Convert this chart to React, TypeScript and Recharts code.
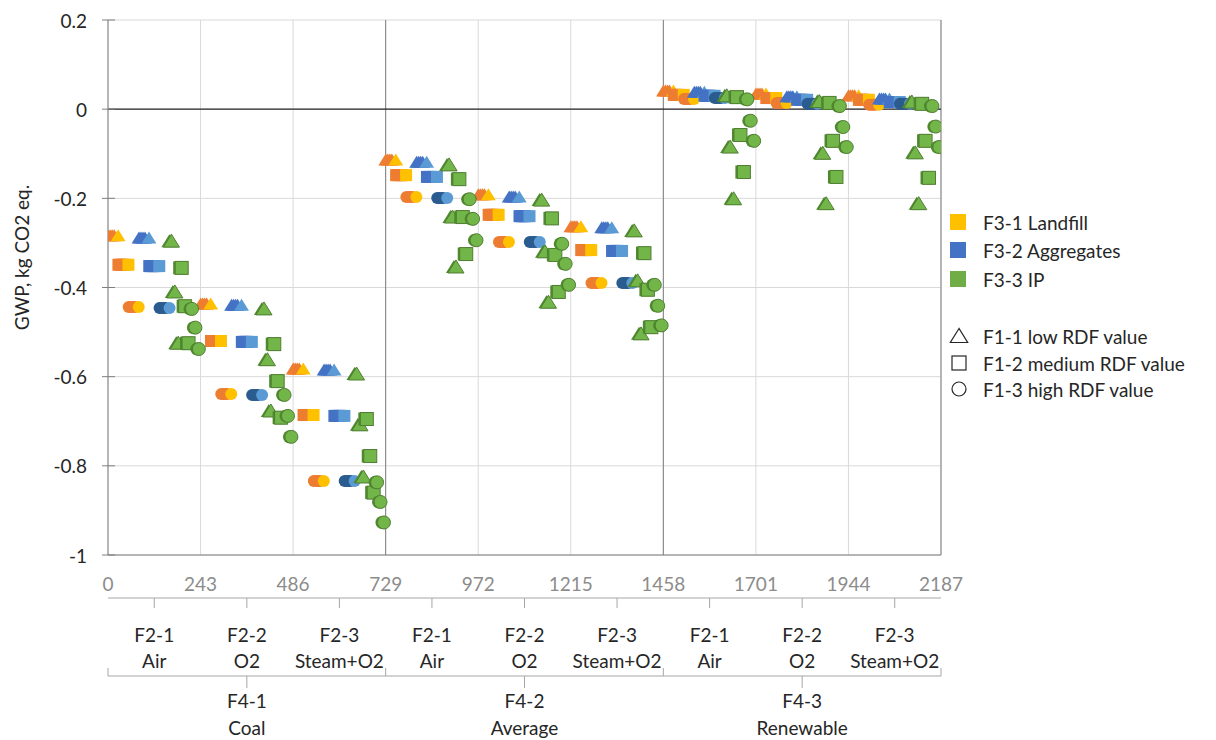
import React from "react";
import { ScatterChart, Scatter, XAxis, YAxis, CartesianGrid, ReferenceLine } from "recharts";

const FONT = "Lato, 'Open Sans', sans-serif";

const xTicks = [0, 243, 486, 729, 972, 1215, 1458, 1701, 1944, 2187];
const yTicks = [0.2, 0, -0.2, -0.4, -0.6, -0.8, -1];
const gasTicks = [121.5, 364.5, 607.5, 850.5, 1093.5, 1336.5, 1579.5, 1822.5, 2065.5];
const energyTicks = [0, 364.5, 729, 1093.5, 1458, 1822.5, 2187];
const energyGroups = [
  { id: "F4-1", name: "Coal" },
  { id: "F4-2", name: "Average" },
  { id: "F4-3", name: "Renewable" },
];
const gasGroups = [
  { id: "F2-1", name: "Air" },
  { id: "F2-2", name: "O2" },
  { id: "F2-3", name: "Steam+O2" },
];
const seriesNames = ["F3-1 Landfill", "F3-2 Aggregates", "F3-3 IP"];
const rdfNames = ["F1-1 low RDF value", "F1-2 medium RDF value", "F1-3 high RDF value"];

// [F4][F2][F1]   F1: 0 low (triangle), 1 medium (square), 2 high (circle)
const landfillValues = [
  [[-0.284, -0.349, -0.444], [-0.437, -0.52, -0.639], [-0.583, -0.686, -0.834]],
  [[-0.114, -0.148, -0.197], [-0.192, -0.237, -0.298], [-0.264, -0.316, -0.39]],
  [[0.041, 0.032, 0.023], [0.034, 0.025, 0.014], [0.03, 0.021, 0.01]],
];
const aggregatesValues = [
  [[-0.289, -0.352, -0.446], [-0.44, -0.522, -0.641], [-0.585, -0.688, -0.834]],
  [[-0.119, -0.152, -0.199], [-0.197, -0.24, -0.298], [-0.266, -0.318, -0.39]],
  [[0.038, 0.03, 0.025], [0.028, 0.021, 0.012], [0.023, 0.016, 0.012]],
];
// [F4][F2][F1][sub-level]
const ipValues = [
  [
    [[-0.296, -0.41, -0.525], [-0.356, -0.442, -0.525], [-0.448, -0.49, -0.538]],
    [[-0.448, -0.562, -0.677], [-0.527, -0.61, -0.692], [-0.641, -0.688, -0.735]],
    [[-0.594, -0.708, -0.825], [-0.695, -0.778, -0.86], [-0.837, -0.881, -0.927]],
  ],
  [
    [[-0.125, -0.242, -0.354], [-0.157, -0.242, -0.325], [-0.202, -0.246, -0.294]],
    [[-0.204, -0.32, -0.433], [-0.245, -0.327, -0.41], [-0.302, -0.347, -0.394]],
    [[-0.273, -0.385, -0.504], [-0.323, -0.405, -0.489], [-0.394, -0.441, -0.485]],
  ],
  [
    [[0.03, -0.085, -0.201], [0.027, -0.058, -0.141], [0.022, -0.026, -0.071]],
    [[0.017, -0.099, -0.212], [0.014, -0.071, -0.152], [0.007, -0.04, -0.085]],
    [[0.016, -0.098, -0.212], [0.012, -0.071, -0.154], [0.007, -0.039, -0.085]],
  ],
];

// position of a combination along the 0..2187 run index
const runIndex = (f4: number, f2: number, f3: number, f1: number) => f4 * 729 + f2 * 243 + f3 * 81 + f1 * 27;

function buildBlocks(values: number[][][], f3: number) {
  const out: any[] = [];
  values.forEach((byGas, f4) =>
    byGas.forEach((byRdf, f2) =>
      byRdf.forEach((y, f1) => out.push({ x: runIndex(f4, f2, f3, f1) + 13.5, y, f1 }))
    )
  );
  return out;
}
function buildSub(values: number[][][][], f3: number) {
  const out: any[] = [];
  values.forEach((byGas, f4) =>
    byGas.forEach((byRdf, f2) =>
      byRdf.forEach((subs, f1) =>
        subs.forEach((y, s) => out.push({ x: runIndex(f4, f2, f3, f1) + s * 9 + 4.5, y, f1 }))
      )
    )
  );
  return out;
}

const landfillData = buildBlocks(landfillValues, 0);
const aggregatesData = buildBlocks(aggregatesValues, 1);
const ipData = buildSub(ipValues, 2);

function markerEl(kind: number, cx: number, cy: number, fill: string, key: any, stroke = "none", sw = 0, size = 12) {
  const h = size / 2;
  if (kind === 0) {
    const w = size * 0.62;
    const pts = `${cx},${cy - h - 0.5} ${cx - w},${cy + h - 0.5} ${cx + w},${cy + h - 0.5}`;
    return <polygon key={key} points={pts} fill={fill} stroke={stroke} strokeWidth={sw} />;
  }
  if (kind === 1)
    return <rect key={key} x={cx - h} y={cy - h} width={size} height={size} fill={fill} stroke={stroke} strokeWidth={sw} />;
  return <circle key={key} cx={cx} cy={cy} r={h} fill={fill} stroke={stroke} strokeWidth={sw} />;
}

const blobShape = (dark: string, light: string, darkCircle: string) => (props: any) => {
  const { cx, cy, payload } = props;
  const k = payload.f1;
  const d = k === 2 ? darkCircle : dark;
  return (
    <g>
      {[-5, -3, -1, 1].map((dx) => markerEl(k, cx + dx, cy, d, dx))}
      {markerEl(k, cx + 5, cy, light, "l")}
    </g>
  );
};

const ipShape = (props: any) => {
  const { cx, cy, payload } = props;
  const k = payload.f1;
  return (
    <g>
      {markerEl(k, cx - 2, cy, "#4E8A2E", "d", "none", 0, 13)}
      {markerEl(k, cx, cy, "#72B548", "m", "#507E32", 1, 13)}
    </g>
  );
};

const NumTick = (props: any) => {
  const { x, y, payload } = props;
  return (
    <text x={x} y={y + 28} textAnchor="middle" dominantBaseline="central" fill="#8C8C8C" fontSize={19} fontFamily={FONT}>
      {payload.value}
    </text>
  );
};

const GasTick = (props: any) => {
  const { x, y, payload } = props;
  const g = gasGroups[Math.floor(payload.value / 243) % 3];
  return (
    <g>
      <line x1={x} y1={y} x2={x} y2={y + 10} stroke="#A6A6A6" />
      <text x={x} y={y + 36} textAnchor="middle" dominantBaseline="central" fill="#262626" fontSize={19} fontFamily={FONT}>
        {g.id}
      </text>
      <text x={x} y={y + 62} textAnchor="middle" dominantBaseline="central" fill="#262626" fontSize={19} fontFamily={FONT}>
        {g.name}
      </text>
    </g>
  );
};

const EnergyTick = (props: any) => {
  const { x, y, payload } = props;
  if (payload.value % 729 === 0) {
    return <line x1={x} y1={y - 8} x2={x} y2={y} stroke="#A6A6A6" />;
  }
  const g = energyGroups[Math.floor(payload.value / 729)];
  return (
    <g>
      <line x1={x} y1={y} x2={x} y2={y + 12} stroke="#A6A6A6" />
      <text x={x} y={y + 24} textAnchor="middle" dominantBaseline="central" fill="#262626" fontSize={19} fontFamily={FONT}>
        {g.id}
      </text>
      <text x={x} y={y + 51} textAnchor="middle" dominantBaseline="central" fill="#262626" fontSize={19} fontFamily={FONT}>
        {g.name}
      </text>
    </g>
  );
};

const YTick = (props: any) => {
  const { x, y, payload } = props;
  return (
    <g>
      <line x1={x - 6} y1={y} x2={x + 7} y2={y} stroke="#7F7F7F" />
      <text x={x - 21} y={y} textAnchor="end" dominantBaseline="central" fill="#262626" fontSize={19} fontFamily={FONT}>
        {String(payload.value)}
      </text>
    </g>
  );
};

const YLabel = (props: any) => {
  const { viewBox } = props;
  const cx = viewBox.x + 13;
  const cy = viewBox.y + viewBox.height / 2 - 30;
  return (
    <text x={cx} y={cy} transform={`rotate(-90 ${cx} ${cy})`} textAnchor="middle" dominantBaseline="central" fill="#262626" fontSize={19} fontFamily={FONT}>
      GWP, kg CO2 eq.
    </text>
  );
};

const legendColors = ["#FFC000", "#4472C4", "#70AD47"];

function LegendBox() {
  const rowsTop = [17, 45, 74];
  const rowsBottom = [131, 158, 184];
  return (
    <svg width={262} height={200} style={{ position: "absolute", left: 932, top: 197 }}>
      {seriesNames.map((n, i) => (
        <g key={n}>
          <rect x={10} y={rowsTop[i] - 8} width={16} height={16} fill={legendColors[i]} />
          <text x={43} y={rowsTop[i]} dominantBaseline="central" fontSize={19} fill="#262626" fontFamily={FONT}>
            {n}
          </text>
        </g>
      ))}
      {rdfNames.map((n, i) => (
        <g key={n}>
          {markerEl(i, 19, rowsBottom[i], "none", "s" + i, "#262626", 1.2, 14)}
          <text x={43} y={rowsBottom[i]} dominantBaseline="central" fontSize={19} fill="#262626" fontFamily={FONT}>
            {n}
          </text>
        </g>
      ))}
    </svg>
  );
}

export default function App() {
  return (
    <div style={{ position: "relative", width: 1200, height: 732, fontFamily: FONT }}>
      <ScatterChart width={1200} height={732} margin={{ top: 12, right: 267, bottom: 0, left: 0 }}>
        <CartesianGrid stroke="#D9D9D9" strokeWidth={1} />
        <XAxis
          xAxisId={0}
          type="number"
          dataKey="x"
          domain={[0, 2187]}
          ticks={xTicks}
          interval={0}
          height={43}
          tick={NumTick}
          tickLine={false}
          tickSize={0}
          tickMargin={0}
          axisLine={{ stroke: "#7F7F7F" }}
          allowDataOverflow
        />
        <XAxis
          xAxisId="lvl1"
          type="number"
          dataKey="x"
          domain={[0, 2187]}
          ticks={gasTicks}
          interval={0}
          height={78}
          tick={GasTick}
          tickLine={false}
          tickSize={0}
          tickMargin={0}
          axisLine={{ stroke: "#A6A6A6" }}
          allowDataOverflow
        />
        <XAxis
          xAxisId="lvl2"
          type="number"
          dataKey="x"
          domain={[0, 2187]}
          ticks={energyTicks}
          interval={0}
          height={64}
          tick={EnergyTick}
          tickLine={false}
          tickSize={0}
          tickMargin={0}
          axisLine={{ stroke: "#A6A6A6" }}
          allowDataOverflow
        />
        <YAxis
          type="number"
          dataKey="y"
          domain={[-1, 0.2]}
          ticks={yTicks}
          interval={0}
          width={100}
          tick={YTick}
          tickLine={false}
          tickSize={0}
          tickMargin={0}
          axisLine={{ stroke: "#7F7F7F" }}
          label={<YLabel />}
          allowDataOverflow
        />
        <ReferenceLine x={729} stroke="#7F7F7F" />
        <ReferenceLine x={1458} stroke="#7F7F7F" />
        <ReferenceLine x={2187} stroke="#7F7F7F" />
        <ReferenceLine y={0} stroke="#262626" strokeWidth={1.3} />
        <Scatter name={seriesNames[0]} data={landfillData} shape={blobShape("#ED7D31", "#FFC000", "#ED7D31")} isAnimationActive={false} />
        <Scatter name={seriesNames[1]} data={aggregatesData} shape={blobShape("#4472C4", "#5B9BD5", "#2B5C8F")} isAnimationActive={false} />
        <Scatter name={seriesNames[2]} data={ipData} shape={ipShape} isAnimationActive={false} />
      </ScatterChart>
      <LegendBox />
    </div>
  );
}
